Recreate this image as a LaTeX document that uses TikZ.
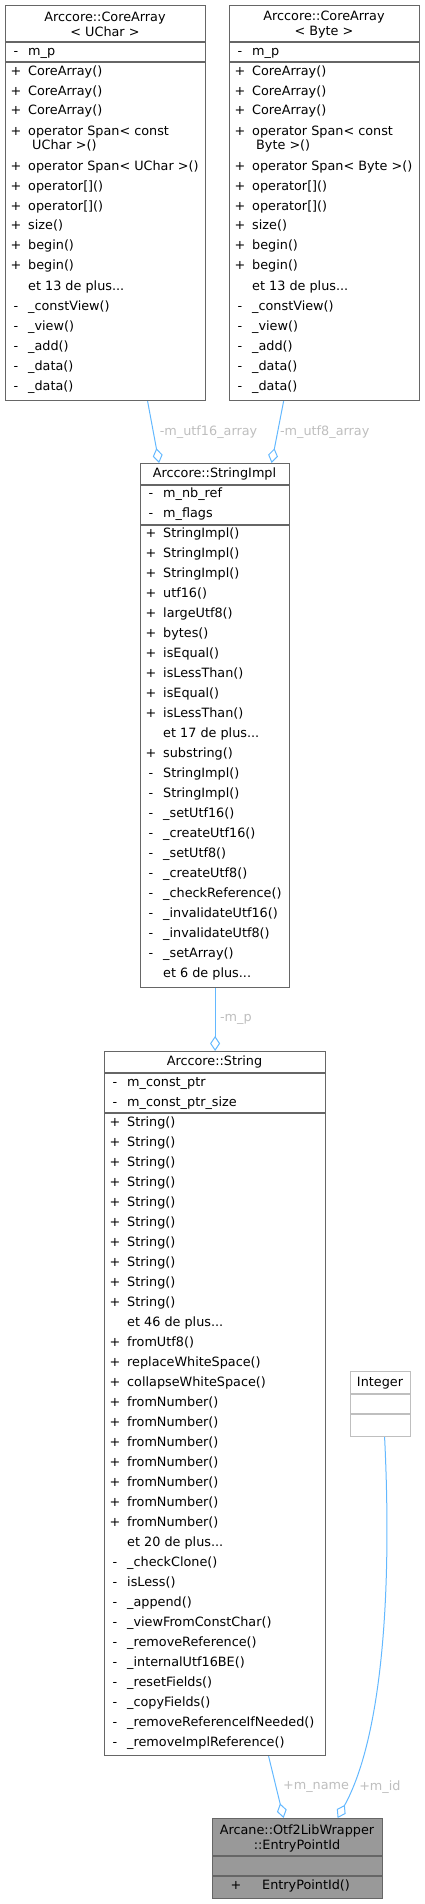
\documentclass[tikz,border=0pt]{standalone}
\usepackage{fontspec}
\setmainfont{DejaVu Sans}
\usepackage{tikz}
\usetikzlibrary{positioning}
\usetikzlibrary{arrows.meta}
\definecolor{boxgrey}{HTML}{666666}
\definecolor{focusgrey}{HTML}{999999}
\definecolor{extgrey}{HTML}{BFBFBF}
\definecolor{linkblue}{HTML}{63B8FF}
\definecolor{labelgrey}{HTML}{BEBEBE}
\newcommand{\classfont}{\fontsize{12.8}{15}\selectfont}
\newcommand{\andmore}[1]{et #1 de plus...}
\tikzstyle{class box}=[draw=boxgrey,fill=white,line width=1.2pt,anchor=north west,inner sep=0pt]
\tikzstyle{class rule}=[draw=boxgrey,line width=1.2pt]
\tikzstyle{class title}=[anchor=center,align=center,inner sep=0pt,font=\classfont]
\tikzstyle{member sign}=[anchor=center,inner sep=0pt,text height=9.5pt,text depth=2.5pt,font=\classfont]
\tikzstyle{member text}=[anchor=west,inner sep=0pt,text height=9.5pt,text depth=2.5pt,font=\classfont]
\tikzstyle{member edge}=[-{Diamond[open,length=15pt,width=10pt]},draw=linkblue,line width=1pt]
\tikzstyle{edge label}=[anchor=west,inner sep=0pt,text=labelgrey,font=\classfont]
\newcommand{\memberrow}[5]{
  \node [member sign] (#1-s) at (#2+11,#3) {#4};
  \node [member text] (#1) at (#2+23,#3) {#5}
}

\begin{document}
\begin{tikzpicture}[x=1pt,y=-1pt]
        \useasboundingbox (0,0) rectangle (424,1904);

        % the two CoreArray templates
        \foreach \bx/\bw/\ty/\nm in {5/200/UChar/uchararray, 229/190/Byte/bytearray}{
                \node [class box,minimum width=\bw pt,minimum height=395pt] (\nm) at (\bx,5) {};
                \node [class title] (\nm-title) at (\bx+\bw/2,24.5) {Arccore::CoreArray\\< \ty{} >};
                \draw [class rule] (\bx,42) -- (\bx+\bw,42);
                \draw [class rule] (\bx,62) -- (\bx+\bw,62);
                \memberrow{\nm-attr}{\bx}{52}{-}{m\_p};
                \foreach \y/\sg/\txt [count=\idx] in {72/+/CoreArray(), 92/+/CoreArray(), 111/+/CoreArray(),
                        132/+/operator Span< const, 167/+/operator Span< \ty{} >(), 187/+/operator[](), 207/+/operator[](),
                        226/+/size(), 246/+/begin(), 266/+/begin(), 287/{}/\andmore{13}, 307/-/\_constView(),
                        327/-/\_view(), 347/-/\_add(), 367/-/\_data(), 387/-/\_data()}{
                        \memberrow{\nm-\idx}{\bx}{\y}{\sg}{\txt};
                }
                \node [member text] (\nm-cont) at (\bx+27,146) {\ty{} >()};
        }

        % StringImpl
        \node [class box,minimum width=149pt,minimum height=524pt] (stringimpl) at (140,463) {};
        \node [class title] (stringimpl-title) at (214.5,474) {Arccore::StringImpl};
        \draw [class rule] (140,485) -- (289,485);
        \draw [class rule] (140,525) -- (289,525);
        \memberrow{stringimpl-a1}{140}{494}{-}{m\_nb\_ref};
        \memberrow{stringimpl-a2}{140}{514}{-}{m\_flags};
        \foreach \sg/\txt [count=\idx] in {+/StringImpl(), +/StringImpl(), +/StringImpl(), +/utf16(), +/largeUtf8(),
                +/bytes(), +/isEqual(), +/isLessThan(), +/isEqual(), +/isLessThan(), {}/\andmore{17}, +/substring(),
                -/StringImpl(), -/StringImpl(), -/\_setUtf16(), -/\_createUtf16(), -/\_setUtf8(), -/\_createUtf8(),
                -/\_checkReference(), -/\_invalidateUtf16(), -/\_invalidateUtf8(), -/\_setArray(), {}/\andmore{6}}{
                \memberrow{stringimpl-\idx}{140}{514+20*\idx}{\sg}{\txt};
        }

        % String
        \node [class box,minimum width=221pt,minimum height=704pt] (string) at (104,1051) {};
        \node [class title] (string-title) at (214.5,1062) {Arccore::String};
        \draw [class rule] (104,1073) -- (325,1073);
        \draw [class rule] (104,1113) -- (325,1113);
        \memberrow{string-a1}{104}{1083}{-}{m\_const\_ptr};
        \memberrow{string-a2}{104}{1103}{-}{m\_const\_ptr\_size};
        \foreach \sg/\txt [count=\idx] in {+/String(), +/String(), +/String(), +/String(), +/String(), +/String(),
                +/String(), +/String(), +/String(), +/String(), {}/\andmore{46}, +/fromUtf8(), +/replaceWhiteSpace(),
                +/collapseWhiteSpace(), +/fromNumber(), +/fromNumber(), +/fromNumber(), +/fromNumber(), +/fromNumber(),
                +/fromNumber(), +/fromNumber(), {}/\andmore{20}, -/\_checkClone(), -/isLess(), -/\_append(),
                -/\_viewFromConstChar(), -/\_removeReference(), -/\_internalUtf16BE(), -/\_resetFields(),
                -/\_copyFields(), -/\_removeReferenceIfNeeded(), -/\_removeImplReference()}{
                \memberrow{string-\idx}{104}{1103+20*\idx}{\sg}{\txt};
        }

        % Integer
        \node [class box,draw=extgrey,minimum width=60pt,minimum height=65pt] (integer) at (350,1371) {};
        \node [class title] (integer-title) at (380,1383) {Integer};
        \draw [class rule,draw=extgrey] (350,1394) -- (410,1394);
        \draw [class rule,draw=extgrey] (350,1414) -- (410,1414);

        % EntryPointId
        \node [class box,fill=focusgrey,minimum width=170pt,minimum height=80pt] (entrypointid) at (212,1818) {};
        \node [class title] (entrypointid-title) at (297,1838) {Arcane::Otf2LibWrapper\\::EntryPointId};
        \draw [class rule] (212,1856) -- (382,1856);
        \draw [class rule] (212,1876) -- (382,1876);
        \node [member sign] (entrypointid-1-s) at (236,1886) {+};
        \node [member text] (entrypointid-1) at (262,1886) {EntryPointId()};

        \draw [member edge] ([xshift=42pt]uchararray.south) -- node [edge label,xshift=6pt] {-m\_utf16\_array} ([xshift=-56pt]stringimpl.north);
        \draw [member edge] ([xshift=-41pt]bytearray.south) -- node [edge label,xshift=2pt] {-m\_utf8\_array} ([xshift=56.5pt]stringimpl.north);
        \draw [member edge] (stringimpl) -- node [edge label,xshift=4.5pt] {-m\_p} (string);
        \draw [member edge] ([xshift=53.5pt]string.south) -- node [edge label,xshift=6.5pt] {+m\_name} ([xshift=-14pt]entrypointid.north);
        \draw [member edge] ([xshift=4pt]integer.south) .. controls +(8,164) and +(43,-78) .. node [edge label,pos=0.88,xshift=7pt] {+m\_id} ([xshift=40pt]entrypointid.north);
\end{tikzpicture}
\end{document}
